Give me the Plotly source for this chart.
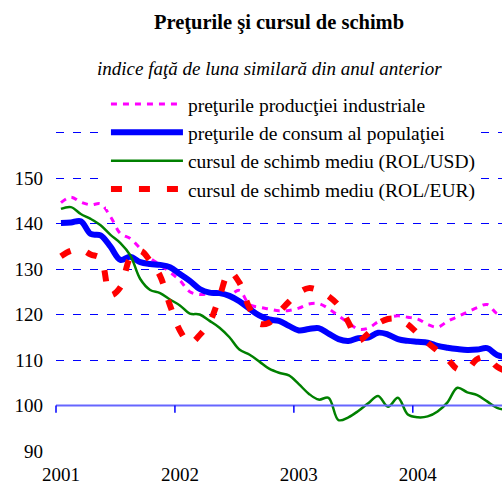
import plotly.graph_objects as go

# ---- data (monthly, Jan 2001 - Oct 2004) ----
months = [f"{y}-{m:02d}" for y in range(2001, 2005) for m in range(1, 13)][:46]

ppi = [144.6, 145.8, 144.7, 144.1, 144.3, 141.5, 137.8, 136.7, 134.5, 132.4, 130.9, 129.3,
       127.5, 125.0, 124.4, 124.5, 124.4, 124.3, 125.3, 122.2, 121.6, 121.2, 120.8, 120.9,
       121.4, 122.3, 122.4, 121.3, 119.7, 118.2, 116.8, 117.0, 118.4, 119.3, 119.7, 119.4,
       119.0, 117.8, 117.2, 118.5, 119.5, 120.5, 121.5, 122.2, 120.2, 119.8]

cpi = [140.1, 140.2, 140.5, 137.7, 137.4, 134.9, 132.0, 132.7, 131.5, 131.1, 130.9, 130.4,
       128.9, 127.4, 125.6, 124.8, 124.7, 124.1, 122.9, 121.3, 119.8, 118.9, 118.6, 117.5,
       116.5, 116.8, 117.0, 115.8, 114.6, 114.2, 114.8, 114.9, 116.0, 115.6, 114.6, 114.2,
       114.0, 113.8, 113.1, 112.7, 112.4, 112.2, 112.3, 112.6, 111.1, 110.6]

usd = [143.2, 143.6, 142.1, 141.0, 139.6, 137.5, 135.7, 133.0, 127.8, 125.4, 124.7, 123.3,
       122.0, 120.2, 120.0, 118.6, 117.1, 115.0, 112.3, 111.2, 109.7, 108.1, 107.2, 106.6,
       104.7, 102.6, 101.3, 101.7, 96.8, 97.4, 98.8, 100.5, 102.1, 99.7, 101.7, 98.0,
       97.4, 97.6, 98.7, 100.7, 103.9, 102.9, 102.3, 100.9, 99.5, 99.0]

eur = [132.8, 134.0, 134.3, 133.2, 132.3, 124.3, 126.0, 132.5, 134.0, 131.8, 128.5, 122.0,
       116.5, 113.7, 115.5, 118.3, 123.9, 129.4, 127.0, 121.5, 118.0, 118.2, 120.5, 122.8,
       124.8, 125.8, 125.3, 124.0, 122.0, 118.3, 114.3, 115.8, 118.0, 119.0, 119.0, 117.8,
       115.8, 113.8, 112.0, 110.2, 108.0, 108.0, 110.2, 110.5, 108.5, 107.5]

series_names = ["preţurile producţiei industriale",
                "preţurile de consum al populaţiei",
                "cursul de schimb mediu (ROL/USD)",
                "cursul de schimb mediu (ROL/EUR)"]

year_ticks = ["2001-01", "2002-01", "2003-01", "2004-01"]
year_labels = ["2001", "2002", "2003", "2004"]
y_ticks = [90, 100, 110, 120, 130, 140, 150, 160, 170]
y_labels = ["90", "100", "110", "120", "130", "140", "150", "", ""]

title = "Preţurile şi cursul de schimb"
subtitle = "indice faţă de luna similară din anul anterior"

FONT = "Liberation Serif"
X_RANGE = [-0.5, 44.5]

fig = go.Figure()
fig.add_trace(go.Scatter(x=months, y=ppi, name=series_names[0], mode="lines",
                         line=dict(color="#FF00FF", width=3, dash="6px,6px", shape="spline")))
fig.add_trace(go.Scatter(x=months, y=cpi, name=series_names[1], mode="lines",
                         line=dict(color="#0000FF", width=6, shape="spline")))
fig.add_trace(go.Scatter(x=months, y=usd, name=series_names[2], mode="lines",
                         line=dict(color="#008000", width=2.5, shape="spline")))
fig.add_trace(go.Scatter(x=months, y=eur, name=series_names[3], mode="lines",
                         line=dict(color="#FF0000", width=6, dash="11px,17px", shape="spline")))

# axis line crossing at 100 with year tick marks (between categories)
fig.add_shape(type="line", xref="paper", yref="y", x0=0, x1=1, y0=100, y1=100,
              line=dict(color="#6666FF", width=2), layer="above")
for t in year_ticks:
    frac = (months.index(t) - 0.5 - X_RANGE[0]) / (X_RANGE[1] - X_RANGE[0])
    fig.add_shape(type="line", xref="paper", yref="y", x0=frac, x1=frac, y0=100, y1=98.4,
                  line=dict(color="#0000FF", width=1.5), layer="above")

fig.add_annotation(text="<i>" + subtitle + "</i>", xref="paper", yref="paper", x=0.4776, y=1.052,
                   showarrow=False, font=dict(family=FONT, size=19, color="black"),
                   xanchor="center", yanchor="middle")

fig.update_layout(
    width=502, height=485,
    margin=dict(l=56, r=0, t=87, b=34),
    paper_bgcolor="white", plot_bgcolor="white",
    font=dict(family=FONT, size=19, color="black"),
    title=dict(text="<b>" + title + "</b>", x=0.5, xref="paper", xanchor="center",
               y=1 - 22 / 485, yref="container", yanchor="middle",
               font=dict(family=FONT, size=20.5, color="black")),
    showlegend=True,
    legend=dict(x=0.112, y=1.006, xanchor="left", yanchor="top",
                bgcolor="white", borderwidth=0, itemwidth=72,
                font=dict(family=FONT, size=19.5, color="black")),
    xaxis=dict(type="category", categoryorder="array", categoryarray=months,
               range=X_RANGE, showgrid=False, zeroline=False, showline=False,
               automargin=False,
               tickmode="array", tickvals=year_ticks, ticktext=year_labels,
               ticks="", ticklabelstandoff=10, tickfont=dict(family=FONT, size=19)),
    yaxis=dict(range=[90, 170], showgrid=True, gridcolor="#0000FF", gridwidth=1,
               griddash="8px,9px", zeroline=False, showline=False, automargin=False,
               tickmode="array", tickvals=y_ticks, ticktext=y_labels,
               ticks="", ticklabelstandoff=12, tickfont=dict(family=FONT, size=19)),
)

fig.write_html("out.html", config={"displayModeBar": False},
               post_script="document.body.style.margin='0px';")
